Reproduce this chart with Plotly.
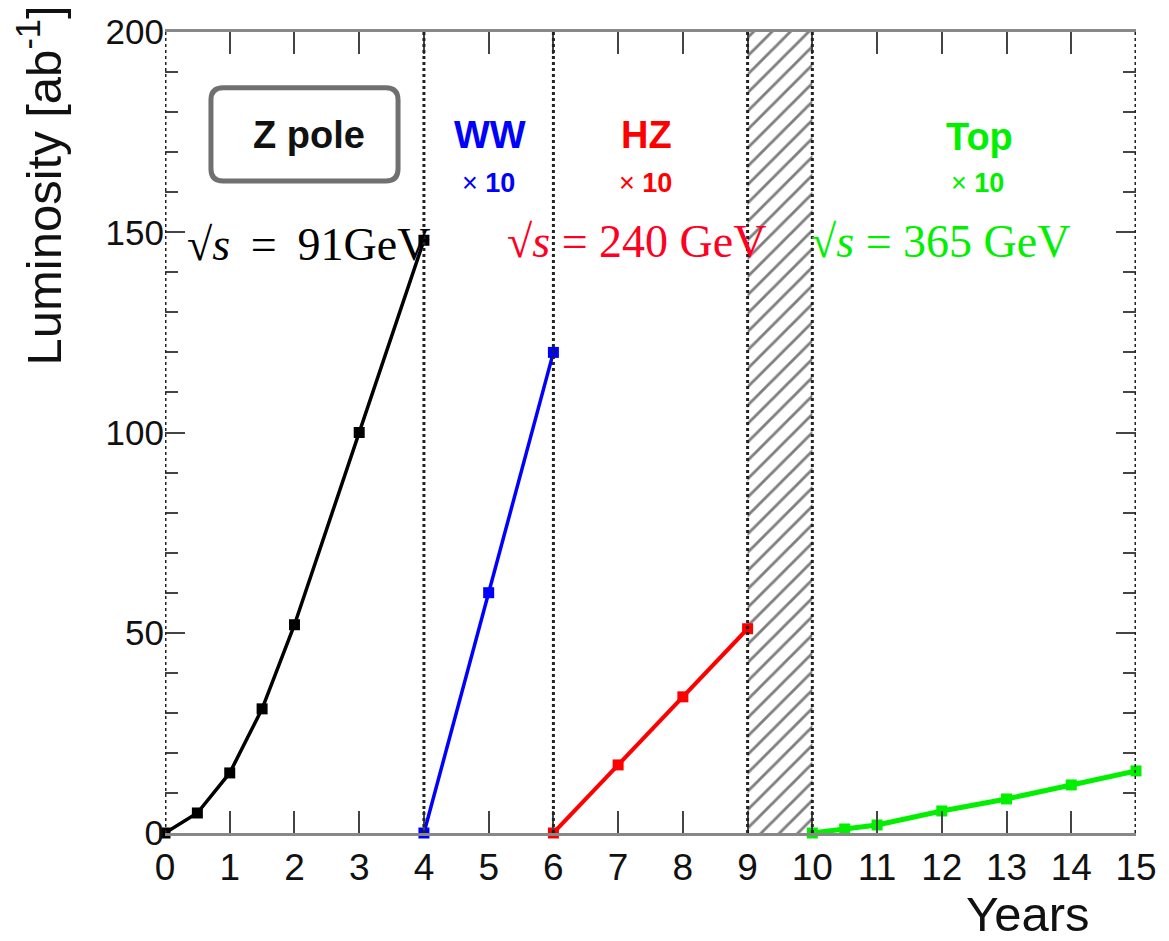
import plotly.graph_objects as go

# ---- data ----
z_years = [0, 0.5, 1, 1.5, 2, 3, 4]
z_lumi = [0, 5, 15, 31, 52, 100, 148]
ww_years = [4, 5, 6]
ww_lumi = [0, 60, 120]
hz_years = [6, 7, 8, 9]
hz_lumi = [0, 17, 34, 51]
top_years = [10, 10.5, 11, 12, 13, 14, 15]
top_lumi = [0, 1, 2, 5.5, 8.5, 12, 15.5]
shutdown = [9, 10]
phase_bounds = [0, 4, 6, 9, 10, 15]
x_ticks = list(range(0, 16))
y_range = [0, 200]

SANS = "Liberation Sans, Arial, Helvetica, sans-serif"
SERIF = "Liberation Serif, Times New Roman, serif"
BLACK = "#000000"
BLUE = "#0000ff"
RED = "#ff0000"
GREEN = "#00f000"

fig = go.Figure()

# hatched shutdown band
fig.add_trace(go.Scatter(
    x=[shutdown[0], shutdown[1], shutdown[1], shutdown[0], shutdown[0]],
    y=[y_range[0], y_range[0], y_range[1], y_range[1], y_range[0]],
    fill="toself", mode="none", fillcolor="white",
    fillpattern=dict(shape="/", fgcolor="#000000", bgcolor="white", size=13, solidity=0.22),
    hoverinfo="skip", showlegend=False))

for xs, ys, col, w in [(z_years, z_lumi, BLACK, 3.5), (ww_years, ww_lumi, BLUE, 3.5),
                       (hz_years, hz_lumi, RED, 4), (top_years, top_lumi, GREEN, 5)]:
    fig.add_trace(go.Scatter(
        x=xs, y=ys, mode="lines+markers",
        line=dict(color=col, width=w),
        marker=dict(symbol="square", size=11, color=col),
        cliponaxis=False, showlegend=False))

shapes = []
for b in phase_bounds:
    shapes.append(dict(type="line", xref="x", yref="y", x0=b, x1=b, y0=y_range[0], y1=y_range[1],
                       line=dict(color="#222222", width=3, dash="dot"), layer="above"))

# rounded box around "Z pole"
bx0, bx1, by0, by1 = 0.71, 3.60, 162.8, 186.1
rx, ry = 0.19, 3.0
path = (f"M {bx0+rx},{by0} L {bx1-rx},{by0} Q {bx1},{by0} {bx1},{by0+ry} "
        f"L {bx1},{by1-ry} Q {bx1},{by1} {bx1-rx},{by1} "
        f"L {bx0+rx},{by1} Q {bx0},{by1} {bx0},{by1-ry} "
        f"L {bx0},{by0+ry} Q {bx0},{by0} {bx0+rx},{by0} Z")
shapes.append(dict(type="path", xref="x", yref="y", path=path,
                   line=dict(color="#707070", width=5), fillcolor="rgba(0,0,0,0)"))

def px_x(p):
    return (p - 165) / 64.8

def px_y(p):
    return (833 - p) / 4.03

SP = "\u2009"
annotations = [
    dict(text="<b>Z pole</b>", x=px_x(309), y=px_y(131), font=dict(family=SANS, size=38, color="#111")),
    dict(text="<b>WW</b>", x=px_x(490), y=px_y(131), font=dict(family=SANS, size=38, color=BLUE)),
    dict(text="× <b>10</b>", x=px_x(489), y=px_y(179), font=dict(family=SANS, size=27, color=BLUE)),
    dict(text="<b>HZ</b>", x=px_x(647), y=px_y(131), font=dict(family=SANS, size=38, color=RED)),
    dict(text="× <b>10</b>", x=px_x(646), y=px_y(179), font=dict(family=SANS, size=27, color=RED)),
    dict(text="<b>Top</b>", x=px_x(980), y=px_y(133), font=dict(family=SANS, size=38, color=GREEN)),
    dict(text="× <b>10</b>", x=px_x(978), y=px_y(179), font=dict(family=SANS, size=27, color=GREEN)),
    dict(text=f"√<i>s</i>{SP} = {SP}91GeV", x=px_x(185), y=px_y(241), xanchor="left",
         font=dict(family=SERIF, size=46, color=BLACK)),
    dict(text="√<i>s</i> = 240 GeV", x=px_x(505), y=px_y(238), xanchor="left",
         font=dict(family=SERIF, size=46, color="#ff0022")),
    dict(text="√<i>s</i> = 365 GeV", x=px_x(810), y=px_y(238), xanchor="left",
         font=dict(family=SERIF, size=46, color=GREEN)),
]
for a in annotations:
    a.setdefault("xanchor", "center")
    a.update(xref="x", yref="y", yanchor="middle", showarrow=False)

annotations.append(dict(text="Luminosity [ab<sup>-1</sup>]", textangle=-90, xref="paper", yref="paper",
                        x=(40 - 165) / 974, y=(833 + 2) / 806, xanchor="center", yanchor="top",
                        showarrow=False, font=dict(family=SANS, size=49, color="#111")))
annotations.append(dict(text="Years", xref="paper", yref="paper",
                        x=(1095 - 165) / 974, y=(833 - 915) / 806, xanchor="right", yanchor="middle",
                        showarrow=False, font=dict(family=SANS, size=49, color="#111")))

fig.update_layout(
    width=1169, height=941,
    margin=dict(l=165, r=30, t=27, b=108),
    paper_bgcolor="white", plot_bgcolor="white",
    shapes=shapes, annotations=annotations,
    xaxis=dict(range=[0, 15], tickvals=x_ticks, ticks="inside", ticklen=22, tickwidth=2,
               tickcolor="#444", showline=True, linecolor="#888", linewidth=3, mirror="ticks",
               showgrid=False, zeroline=False,
               tickfont=dict(family=SANS, size=37, color="#111")),
    yaxis=dict(range=y_range, dtick=50, ticks="inside", ticklen=20, tickwidth=2,
               tickcolor="#444", showline=False, mirror="ticks",
               minor=dict(dtick=10, ticks="inside", ticklen=13, tickwidth=2, tickcolor="#444"),
               showgrid=False, zeroline=False,
               tickfont=dict(family=SANS, size=35, color="#111")),
)

fig.write_html("out.html")
